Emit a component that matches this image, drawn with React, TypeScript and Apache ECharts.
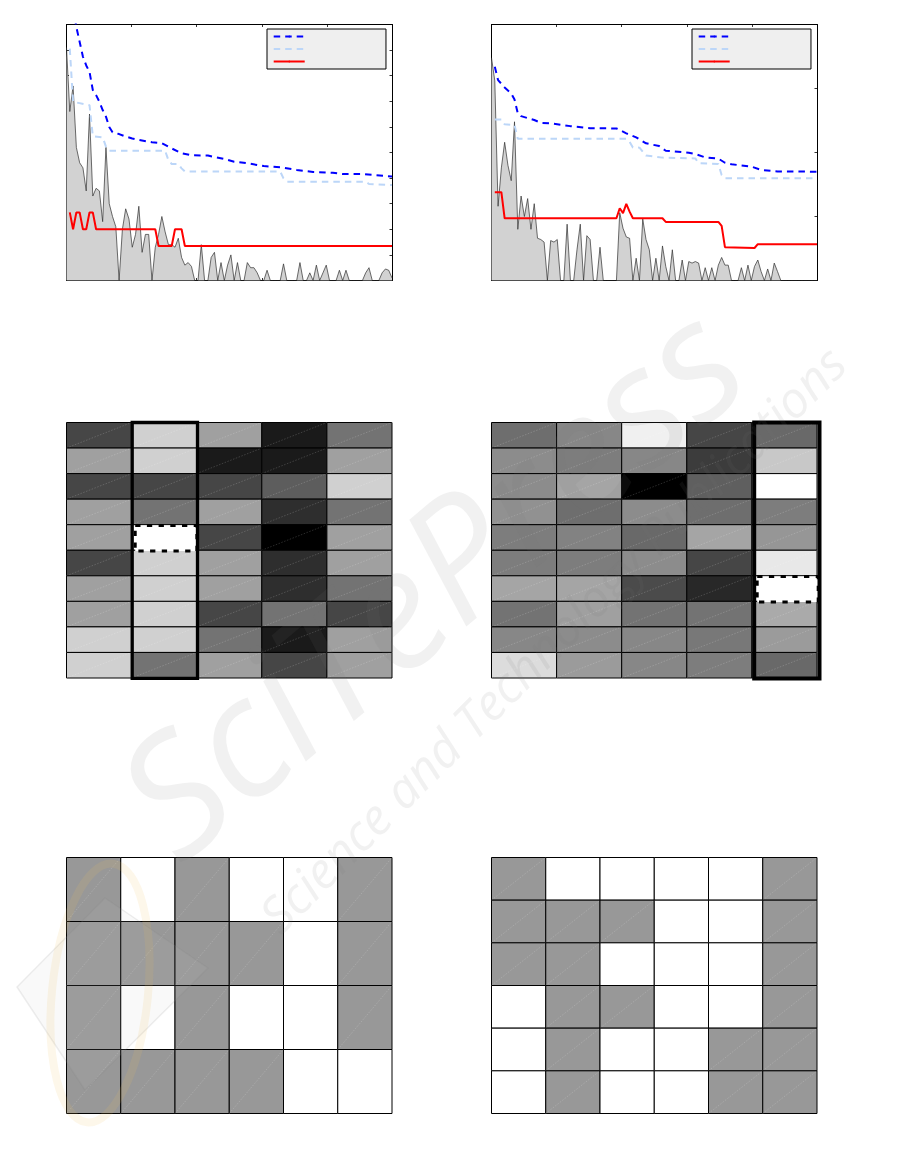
import React, { useEffect, useRef } from "react";
import * as echarts from "echarts";

const coverageA = [91,66,76,52,46,44,35,65,33,36,35,23,52,30,25,21,0,20,28,24,13,18,29,11,18,18,0,13,18,25,19,14,14,13,16.5,9,6,7,5.5,0,0,14,0,0,9,11,0,7,0,6,10,0,7,0,0,7,5,5,3,0,0,4,0,0,0,0,6.5,0,0,0,0,7,0,0,3,0,6,0,3,6,0,0,0,4,0,4,0,0,0,0,0,3,5,0,0,0,3,4.5,4,1];
const coverageB = [87,78,29,44,54,45,39,62,20,33,25,32,20,30,16.5,16,15,0,15.6,15,16,0,0,22,0,0,12,22,0,17.5,16,0,0,13,0,0,0,0,0,26.5,20.4,17,16.5,0,8.7,0,24,16,12,0,8.7,0,13.5,5.5,0,12,0,0,8,0,7.4,6.8,7.4,6.8,0,5,0,5,0,6,9,6,6,0,0,0,5,0,6,0,5.5,8,3.5,0,4.5,0,6.8,3.5,0,0,0,0,0,0,0,0,0,0,0,0];

const blueA = [[2,107],[3,99],[5,87.4],[6,84],[7,81.5],[8,74.4],[9,72.4],[10,69.8],[11,66.6],[12,64],[13,60],[14,57.9],[16,57.2],[18,56.2],[20,55.5],[22,54.9],[26,54],[29,53.6],[32,51.6],[35,49.7],[38,48.9],[43,48.8],[48,47.5],[51,46.4],[55,45.8],[60,44.7],[65,44.2],[70,43.2],[75,42.4],[81,42.1],[84,41.6],[90,41.6],[99,40.6]];
const lightA = [[1,90.6],[2,69.8],[7,68.5],[8,56.4],[11,55.9],[12,52.3],[13,50.7],[30,50.7],[31,47],[32,45.5],[34,45.5],[35,43.8],[36,42.6],[65,42.6],[66,39.9],[67,38.6],[91,38.6],[92,37.7],[99,37.3]];
const redA = [[1,26.6],[2,20],[3,26.6],[4,26.6],[5,20],[6,20],[7,26.6],[8,26.6],[9,20],[27,20],[28,13.5],[32,13.5],[33,20],[35,20],[36,13.5],[99,13.5]];

const blueB = [[1,83.5],[2,78.3],[4,75.4],[6,73.1],[7,70.7],[8,65.3],[9,64.2],[13,62.7],[15,61.6],[18,61.4],[24,60.3],[30,59.5],[38,59.4],[41,57.5],[44,55.9],[47,53.6],[51,52.5],[53,50.7],[60,49.9],[62,49.4],[65,48.1],[69,47.6],[71,46],[73,45.4],[79,44.5],[82,43.2],[87,42.6],[99,42.5]];
const lightB = [[1,62.9],[3,62.9],[4,61],[7,60.7],[8,55.4],[41,55.4],[42,54.2],[43,52],[45,51.9],[47,48.8],[52,48],[62,47.7],[63,45.8],[69,45.5],[70,41.2],[71,39.9],[99,39.9]];
const redB = [[1,34.5],[3,34.5],[4,24.3],[38,24.3],[39,28.2],[40,26.3],[41,29.9],[42,26.9],[43,24.3],[52,24.3],[53,22.9],[69,22.9],[70,21.3],[71,13],[80,12.7],[81,14.2],[99,14.2]];

const grayLeft = [
  [70,208,160,26,115],
  [160,208,26,26,160],
  [70,70,70,93,208],
  [160,115,160,46,115],
  [160,255,70,0,160],
  [70,208,160,46,160],
  [160,208,160,46,115],
  [160,208,70,115,70],
  [208,208,115,26,160],
  [208,115,160,70,160],
];
const grayRight = [
  [110,135,240,70,105],
  [140,125,135,60,200],
  [140,165,0,95,255],
  [145,110,140,110,125],
  [125,130,105,165,150],
  [125,125,140,70,232],
  [165,165,75,40,255],
  [115,160,115,115,170],
  [135,140,135,120,155],
  [220,155,135,125,105],
];
const binLeft = [
  [152,255,152,255,255,152],
  [152,152,152,152,255,152],
  [152,255,152,255,255,152],
  [152,152,152,152,255,255],
];
const binRight = [
  [152,255,255,255,255,152],
  [152,152,152,255,255,152],
  [152,152,255,255,255,152],
  [255,152,152,255,255,152],
  [255,152,255,255,152,152],
  [255,152,255,255,152,152],
];

const BLUE = "#0000ff";
const LIGHT = "#bcd6f8";
const RED = "#ff0000";

const GRIDS = [
  { left: 66.5, top: 24.5, width: 325.5, height: 256 },
  { left: 491.5, top: 24.5, width: 325.5, height: 256 },
  { left: 66.5, top: 422.5, width: 325.5, height: 255.5 },
  { left: 491.5, top: 422.5, width: 325.5, height: 255.5 },
  { left: 66.5, top: 857.5, width: 325.5, height: 256 },
  { left: 491.5, top: 857.5, width: 325.5, height: 256 },
];

const frameAxis = (extra: any) => ({
  axisLine: { show: true, onZero: false, lineStyle: { color: "#000", width: 1 } },
  axisTick: { show: true, inside: true, length: 2.5, lineStyle: { color: "#000", width: 0.8 } },
  axisLabel: { show: false },
  splitLine: { show: false },
  ...extra,
});

const lineSeries = (name: string, data: number[][], color: string, dashed: boolean, x: number, y: number) => ({
  type: "line",
  name,
  data,
  xAxisIndex: x,
  yAxisIndex: y,
  symbol: "none",
  z: 4,
  lineStyle: { color, width: 2, type: dashed ? [6.5, 5] : "solid" },
  itemStyle: { color },
});

const areaSeries = (values: number[], x: number, y: number) => ({
  type: "line",
  name: "coverage",
  data: values.map((v, i) => [i, v]),
  xAxisIndex: x,
  yAxisIndex: y,
  symbol: "none",
  z: 2,
  lineStyle: { color: "#2f2f2f", width: 0.7 },
  areaStyle: { color: "#d2d2d2", opacity: 1 },
  itemStyle: { color: "#2f2f2f" },
});

const cellSeries = (rows: number[][], x: number, y: number) => ({
  type: "custom",
  xAxisIndex: x,
  yAxisIndex: y,
  z: 2,
  clip: false,
  data: rows.flatMap((row, r) => row.map((g, c) => [c, r, g])),
  encode: { x: 0, y: 1 },
  renderItem: (_: any, api: any) => {
    const g = api.value(2);
    const [cx, cy] = api.coord([api.value(0), api.value(1)]);
    const [w, h] = api.size([1, 1]);
    const children: any[] = [
      {
        type: "rect",
        shape: { x: cx - w / 2, y: cy - h / 2, width: w, height: h },
        style: { fill: `rgb(${g},${g},${g})`, stroke: "#000", lineWidth: 1 },
      },
    ];
    if (g < 255) {
      children.push({
        type: "line",
        shape: { x1: cx - w / 2, y1: cy + h / 2, x2: cx + w / 2, y2: cy - h / 2 },
        style: { stroke: "rgba(255,255,255,0.28)", lineWidth: 0.6, lineDash: [1.5, 1.5] },
      });
    }
    return { type: "group", children };
  },
});

const highlightSeries = (cell: number[], rowCount: number, x: number, y: number, dx: number, boxWidth: number) => ({
  type: "custom",
  xAxisIndex: x,
  yAxisIndex: y,
  z: 5,
  clip: false,
  data: [cell],
  encode: { x: 0, y: 1 },
  renderItem: (_: any, api: any) => {
    const [cx, cy] = api.coord([api.value(0), api.value(1)]);
    const [w, h] = api.size([1, 1]);
    const top = api.coord([api.value(0), 0])[1] - h / 2;
    return {
      type: "group",
      children: [
        {
          type: "rect",
          shape: { x: cx - w / 2 + dx + 3, y: cy - h / 2 + 0.7, width: w - 3.2 - dx * 0.4, height: h },
          style: { fill: "#fff", stroke: "#000", lineWidth: 3, lineDash: [5.3, 6.4] },
        },
        {
          type: "rect",
          shape: { x: cx - w / 2 + dx, y: top, width: w + 0.2, height: h * rowCount + 0.4 },
          style: { fill: "none", stroke: "#000", lineWidth: boxWidth },
        },
      ],
    };
  },
});

const legendAt = (left: number) => ({
  show: true,
  orient: "vertical",
  left,
  top: 29,
  data: ["Upper bound", "Lower bound", "Solution"],
  formatter: () => " ",
  itemWidth: 31,
  itemHeight: 2,
  itemGap: 10.5,
  padding: [6.5, 76, 6.5, 5.7],
  backgroundColor: "#efefef",
  borderColor: "#000",
  borderWidth: 1,
  borderRadius: 0,
  selectedMode: false,
  textStyle: { fontSize: 1, color: "#efefef" },
  z: 6,
});

const WM = "rgba(120,120,120,0.1)";

const watermark = [
  {
    type: "text",
    x: 86,
    y: 754,
    rotation: (40 * Math.PI) / 180,
    z: 50,
    silent: true,
    style: { text: "SciTePress", font: 'italic 166px "Open Sans"', fill: WM },
  },
  {
    type: "text",
    x: 250,
    y: 905,
    rotation: Math.PI / 4,
    z: 50,
    silent: true,
    style: { text: "Science and Technology Publications", font: 'italic 50px "Open Sans"', fill: WM },
  },
  {
    type: "polygon",
    z: 50,
    silent: true,
    shape: { points: [[105, 898], [208, 968], [85, 1090], [17, 987]] },
    style: { fill: "rgba(200,200,200,0.1)", stroke: "rgba(120,120,120,0.13)", lineWidth: 1.5 },
  },
  {
    type: "ellipse",
    z: 50,
    silent: true,
    x: 100,
    y: 993,
    rotation: -0.1,
    shape: { cx: 0, cy: 0, rx: 48, ry: 130 },
    style: { fill: "none", stroke: "rgba(240,195,90,0.13)", lineWidth: 8 },
  },
];

const option = {
  animation: false,
  backgroundColor: "#fff",
  grid: GRIDS.map((g) => ({ ...g, show: false, containLabel: false })),
  legend: [legendAt(267), legendAt(692)],
  xAxis: [
    frameAxis({ type: "value", gridIndex: 0, min: 0, max: 99, interval: 19.8, position: "bottom" }),
    frameAxis({ type: "value", gridIndex: 0, min: 0, max: 99, interval: 19.8, position: "top" }),
    frameAxis({ type: "value", gridIndex: 1, min: 0, max: 99, interval: 19.8, position: "bottom" }),
    frameAxis({ type: "value", gridIndex: 1, min: 0, max: 99, interval: 19.8, position: "top" }),
    ...[grayLeft, grayRight, binLeft, binRight].map((m, i) => ({
      type: "category",
      gridIndex: i + 2,
      data: m[0].map((_, c) => c),
      show: false,
    })),
  ],
  yAxis: [
    frameAxis({ type: "value", gridIndex: 0, min: 0, max: 100, interval: 10, position: "left" }),
    frameAxis({ type: "value", gridIndex: 0, min: 0, max: 100, interval: 10, position: "right" }),
    frameAxis({ type: "value", gridIndex: 1, min: 0, max: 100, interval: 25, position: "left" }),
    frameAxis({ type: "value", gridIndex: 1, min: 0, max: 100, interval: 25, position: "right" }),
    ...[grayLeft, grayRight, binLeft, binRight].map((m, i) => ({
      type: "category",
      gridIndex: i + 2,
      inverse: true,
      data: m.map((_, r) => r),
      show: false,
    })),
  ],
  series: [
    areaSeries(coverageA, 0, 0),
    lineSeries("Upper bound", blueA, BLUE, true, 0, 0),
    lineSeries("Lower bound", lightA, LIGHT, true, 0, 0),
    lineSeries("Solution", redA, RED, false, 0, 0),
    areaSeries(coverageB, 2, 2),
    lineSeries("Upper bound", blueB, BLUE, true, 2, 2),
    lineSeries("Lower bound", lightB, LIGHT, true, 2, 2),
    lineSeries("Solution", redB, RED, false, 2, 2),
    cellSeries(grayLeft, 4, 4),
    cellSeries(grayRight, 5, 5),
    cellSeries(binLeft, 6, 6),
    cellSeries(binRight, 7, 7),
    highlightSeries([1, 4], grayLeft.length, 4, 4, 0.6, 3.3),
    highlightSeries([4, 6], grayRight.length, 5, 5, 2.3, 4),
  ],
  graphic: { elements: watermark },
};

export default function App() {
  const ref = useRef<HTMLDivElement>(null);
  useEffect(() => {
    document.body.style.margin = "0";
    const chart = echarts.init(ref.current!, undefined, { renderer: "svg" });
    chart.setOption(option as any);
    return () => chart.dispose();
  }, []);
  return <div ref={ref} style={{ width: 901, height: 1149 }} />;
}
